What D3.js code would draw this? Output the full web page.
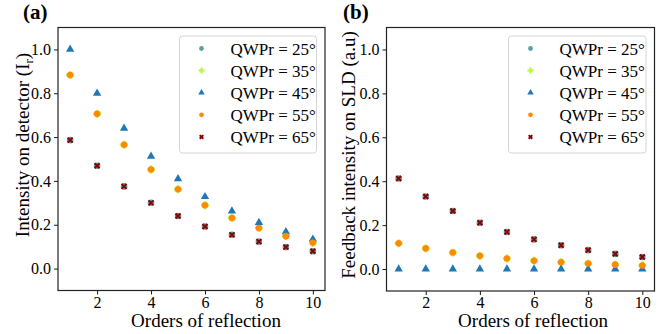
<!DOCTYPE html>
<html><head><meta charset="utf-8">
<script src="https://cdn.jsdelivr.net/npm/d3@7"></script>
<style>body{margin:0;background:#fff}svg{display:block;font-family:'Liberation Serif','Times New Roman',Tinos,'DejaVu Serif',serif}svg text{font-family:'Liberation Serif','Times New Roman',Tinos,'DejaVu Serif',serif !important;fill:#000}</style>
</head><body>
<svg id="chart" width="664" height="334"></svg>
<script>
const orders = [1,2,3,4,5,6,7,8,9,10];
const seriesNames = ["QWPr = 25°","QWPr = 35°","QWPr = 45°","QWPr = 55°","QWPr = 65°"];
const seriesColors = ["#5f9ea0","#adff2f","#1f77b4","#ff8c00","#8b0000"];
const seriesShapes = ["circle","cross","triangle","circle","x"];
const yTicks = [0.0,0.2,0.4,0.6,0.8,1.0];
const xTicks = [2,4,6,8,10];

// Panel (a): intensity on detector
const a25 = [0.586,0.469,0.375,0.300,0.240,0.192,0.154,0.123,0.098,0.079];
const a35 = [0.883,0.706,0.565,0.452,0.362,0.289,0.231,0.185,0.148,0.118];
const a45 = [1.000,0.800,0.640,0.512,0.410,0.328,0.262,0.210,0.168,0.134];
const a55 = [0.883,0.706,0.565,0.452,0.362,0.289,0.231,0.185,0.148,0.118];
const a65 = [0.586,0.469,0.375,0.300,0.240,0.192,0.154,0.123,0.098,0.079];
// Panel (b): feedback intensity on SLD
const b25 = [0.412,0.330,0.264,0.211,0.169,0.135,0.108,0.086,0.069,0.055];
const b35 = [0.117,0.094,0.075,0.060,0.048,0.038,0.031,0.025,0.020,0.016];
const b45 = [0,0,0,0,0,0,0,0,0,0];
const b55 = [0.117,0.094,0.075,0.060,0.048,0.038,0.031,0.025,0.020,0.016];
const b65 = [0.412,0.330,0.264,0.211,0.169,0.135,0.108,0.086,0.069,0.055];

const svg = d3.select("#chart");
const FONT = "'Liberation Serif','Times New Roman',Tinos,'DejaVu Serif',serif";

function symbolPath(shape, size){
  const t = {circle:d3.symbolCircle, cross:d3.symbolCross, triangle:d3.symbolTriangle, x:d3.symbolX}[shape];
  return d3.symbol().type(t).size(size)();
}

function drawMarker(g, shape, color, x, y, size){
  if(shape === "x"){
    g.append("path").attr("d", symbolPath("x", size)).attr("transform",`translate(${x},${y})`)
      .attr("fill","none").attr("stroke", color).attr("stroke-width",2);
  } else {
    g.append("path").attr("d", symbolPath(shape, size)).attr("transform",`translate(${x},${y})`)
      .attr("fill", color);
  }
}

function drawPanel(p){
  const g = svg.append("g");
  const x = d3.scaleLinear().domain([0.55,10.45]).range([p.left,p.right]);
  const y = d3.scaleLinear().domain([-0.1,1.1]).range([p.bottom,p.top]);

  const xAxis = g.append("g").attr("transform",`translate(0,${p.bottom})`)
    .call(d3.axisBottom(x).tickValues(xTicks).tickFormat(d3.format("d")).tickSize(4).tickPadding(2));
  const yAxis = g.append("g").attr("transform",`translate(${p.left},0)`)
    .call(d3.axisLeft(y).tickValues(yTicks).tickFormat(d3.format(".1f")).tickSize(4).tickPadding(3));
  [xAxis,yAxis].forEach(ax=>{
    ax.attr("font-family", FONT).attr("font-size", 16);
    ax.select(".domain").remove();
    ax.selectAll("line").attr("stroke","#000").attr("stroke-width",0.9);
    ax.selectAll("text").attr("fill","#000");
  });

  // data points
  const mg = g.append("g");
  p.series.forEach((vals,i)=>{
    vals.forEach((v,j)=>{
      drawMarker(mg, seriesShapes[i], seriesColors[i], x(orders[j]), y(v), [34,34,30,34,18][i]);
    });
  });

  // frame
  g.append("rect").attr("x",p.left).attr("y",p.top).attr("width",p.right-p.left).attr("height",p.bottom-p.top)
    .attr("fill","none").attr("stroke","#222").attr("stroke-width",1.2);

  // legend
  const lg = g.append("g");
  lg.append("rect").attr("x",p.legX).attr("y",36).attr("width",p.legW).attr("height",117)
    .attr("rx",3).attr("fill","#fff").attr("fill-opacity",0.85).attr("stroke","#d6d6d6").attr("stroke-width",1);
  seriesNames.forEach((name,i)=>{
    const yy = 48.5 + i*22.1;
    drawMarker(lg, seriesShapes[i], seriesColors[i], p.legX+22, yy, [18,20,18,18,10][i]);
    lg.append("text").attr("x",p.legX+51).attr("y",yy+6).attr("font-family",FONT).attr("font-size",17).text(name);
  });

  // labels
  g.append("text").attr("x",p.xLabelX).attr("y",327).attr("text-anchor","middle").attr("font-family",FONT).attr("font-size",19).text("Orders of reflection");
  const yl = g.append("text").attr("transform",`translate(${p.yLabelX},${p.yLabelY}) rotate(-90)`).attr("text-anchor","middle").attr("font-family",FONT).attr("font-size",19);
  p.yLabel(yl);
  g.append("text").attr("x",p.titleX).attr("y",19).attr("font-family",FONT).attr("font-size",21).attr("font-weight","bold").text(p.title);
}

drawPanel({left:58,right:325,top:27.5,bottom:290.5,series:[a25,a35,a45,a55,a65],
  legX:179.5,legW:137,xLabelX:206,yLabelX:29,yLabelY:145,titleX:23,title:"(a)",
  yLabel: t=>{ t.append("tspan").text("Intensity on detector (I"); t.append("tspan").attr("dy",4).attr("font-size",13).text("r"); t.append("tspan").attr("dy",-4).text(")"); }});
drawPanel({left:386.5,right:654.5,top:27.5,bottom:291,series:[b25,b35,b45,b55,b65],
  legX:508.5,legW:137.5,xLabelX:533,yLabelX:355,yLabelY:155,titleX:343,title:"(b)",
  yLabel: t=>{ t.text("Feedback intensity on SLD (a.u)"); }});
</script>
</body></html>
